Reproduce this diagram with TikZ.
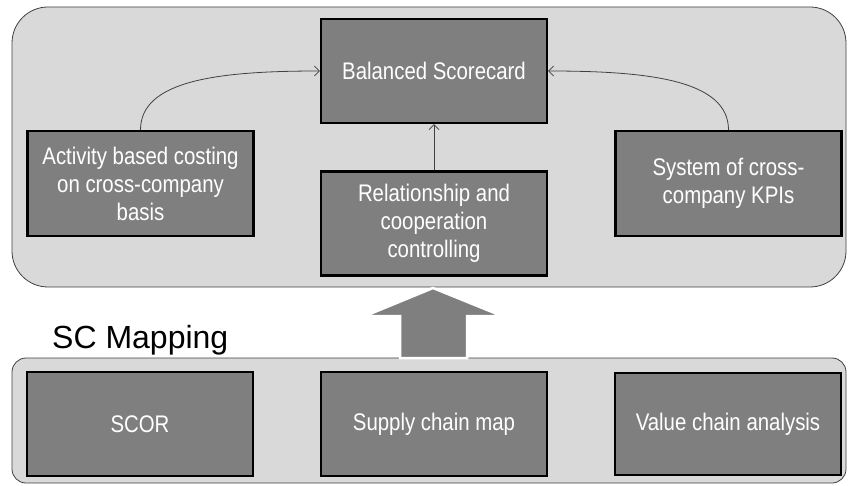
\documentclass[tikz,border=0pt]{standalone}
\usepackage{fontspec}
\setmainfont{Liberation Sans}
\newfontfamily\boxfont[FakeStretch=0.85]{Liberation Sans}
\usetikzlibrary{arrows.meta}
\definecolor{panelgray}{HTML}{D9D9D9}
\definecolor{boxgray}{HTML}{7F7F7F}
\definecolor{linegray}{HTML}{404040}
\tikzset{
  panel/.style={fill=panelgray, draw=linegray, line width=0.8pt},
  graybox/.style={rectangle, fill=boxgray, draw=black, line width=2.2pt,
    minimum width=226pt, minimum height=104pt, inner sep=0pt,
    text=white, align=center, font=\boxfont\fontsize{24}{28}\selectfont},
  conn/.style={draw=linegray, line width=0.8pt, -{Straight Barb[length=5pt,width=10pt]}},
  bigarrow/.style={fill=boxgray, draw=white, line width=2.5pt, line join=miter}
}
\begin{document}
\begin{tikzpicture}[x=1pt,y=-1pt]
\useasboundingbox (0,0) rectangle (848,486);
% containers
\draw[panel, rounded corners=36pt] (12,7) rectangle (846,287);
\draw[panel, rounded corners=14pt] (12,358) rectangle (846,483);
% top boxes
\node[graybox] (bsc) at (434,71) {Balanced Scorecard};
\node[graybox, minimum height=105pt] (abc) at (140.5,183.5) {Activity based costing\\on cross-company\\basis};
\node[graybox] (rel) at (434,223.5) {Relationship and\\cooperation\\controlling};
\node[graybox, minimum height=105pt] (kpi) at (728.5,183.5) {System of cross-\\company KPIs};
% connectors
\draw[conn] (abc.north) .. controls +(0,-50) and +(-100,0) .. (bsc.west);
\draw[conn] (kpi.north) .. controls +(0,-50) and +(100,0) .. (bsc.east);
\draw[conn] (rel.north) -- (bsc.south);
% big arrow
\coordinate (tip) at (433,288);
\draw[bigarrow] (tip) -- (502,316) -- (467,316) -- (467,358) -- (400,358) -- (400,316) -- (365,316) -- cycle;
% label
\node[anchor=base west, inner sep=0pt, font=\fontsize{32}{36}\selectfont] (scm) at (52,348) {SC Mapping};
% bottom boxes
\node[graybox] (scor) at (140,424) {SCOR};
\node[graybox] (scmap) at (434,424) {Supply chain map};
\node[graybox, minimum height=102pt] (vca) at (728,424) {Value chain analysis};
\end{tikzpicture}
\end{document}
